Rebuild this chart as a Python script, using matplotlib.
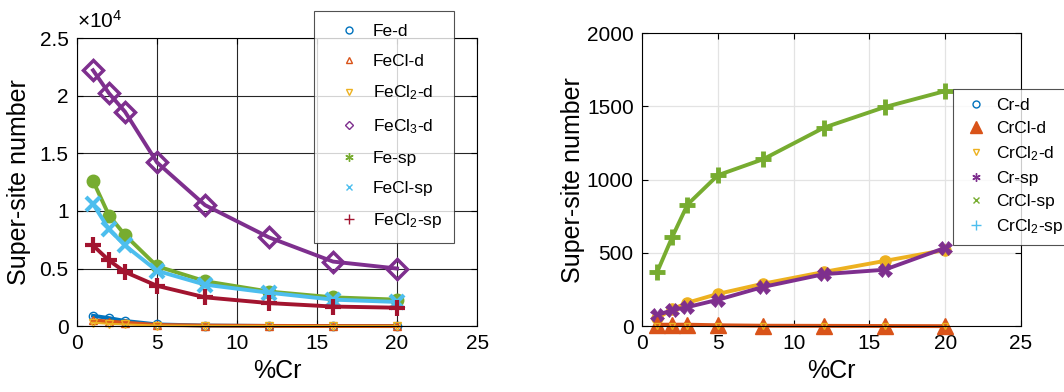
import matplotlib
matplotlib.use("Agg")
import matplotlib.pyplot as plt
from matplotlib.lines import Line2D
from matplotlib.ticker import FuncFormatter

plt.rcParams['font.family'] = ['Liberation Sans', 'DejaVu Sans']
plt.rcParams['mathtext.default'] = 'regular'

# ---------------- data ----------------
cr = [1, 2, 3, 5, 8, 12, 16, 20]

# left panel (Fe species)
fe_d = [900, 700, 450, 150, 50, 20, 10, 5]
fecl_d = [500, 400, 300, 100, 50, 20, 10, 5]
fecl2_d = [300, 200, 150, 50, 20, 10, 5, 2]
fecl3_d = [22200, 20200, 18600, 14200, 10500, 7700, 5600, 5000]
fe_sp = [12600, 9600, 7900, 5200, 3900, 3000, 2500, 2300]
fecl_sp = [10600, 8400, 7000, 4800, 3600, 2900, 2300, 2100]
fecl2_sp = [7000, 5700, 4700, 3500, 2500, 2000, 1700, 1600]

# right panel (Cr species), as drawn
cr_top = [369, 610, 830, 1030, 1140, 1355, 1495, 1605]
cr_mid = [55, 115, 160, 220, 290, 370, 445, 520]
cr_low = [75, 110, 130, 180, 268, 355, 385, 535]
cr_zero = [10, 10, 10, 6, 3, 2, 1, 0]
cr_zero2 = [0, 0, 0, 0, 0, 0, 0, 0]

left_labels = ['Fe-d', 'FeCl-d', 'FeCl$_2$-d', 'FeCl$_3$-d', 'Fe-sp', 'FeCl-sp', 'FeCl$_2$-sp']
right_labels = ['Cr-d', 'CrCl-d', 'CrCl$_2$-d', 'Cr-sp', 'CrCl-sp', 'CrCl$_2$-sp']

C_BLUE = '#0072BD'
C_ORANGE = '#D95319'
C_YELLOW = '#EDB120'
C_PURPLE = '#7E2F8E'
C_GREEN = '#77AC30'
C_CYAN = '#4DBEEE'
C_RED = '#A2142F'
AST = (6, 2, 0)

TICK_FS = 15
LABEL_FS = 18
LEG_FS = 12.5

fig = plt.figure(figsize=(10.64, 3.92), dpi=100)

# ---------------- left ----------------
ax1 = fig.add_axes([0.0724, 0.168, 0.376, 0.735])
lw = 2.8
ax1.plot(cr, fe_d, color=C_BLUE, lw=lw, marker='o', ms=6, mfc='none', mew=1, clip_on=False)
ax1.plot(cr, fecl_d, color=C_ORANGE, lw=lw, marker='^', ms=6, mfc='none', mew=1, clip_on=False)
ax1.plot(cr, fecl2_d, color=C_YELLOW, lw=1.5, marker='v', ms=6, mfc='none', mew=1, clip_on=False)
ax1.plot(cr, fecl3_d, color=C_PURPLE, lw=lw, marker='D', ms=10, mfc='none', mew=2.5)
ax1.plot(cr, fe_sp, color=C_GREEN, lw=lw, marker='o', ms=8, mew=2)
ax1.plot(cr, fecl_sp, color=C_CYAN, lw=lw, marker='x', ms=10, mew=3)
ax1.plot(cr, fecl2_sp, color=C_RED, lw=lw, marker='+', ms=12, mew=3)
ax1.set_xlim(0, 25)
ax1.set_ylim(0, 25000)
ax1.set_xticks([0, 5, 10, 15, 20, 25])
ax1.set_yticks([0, 5000, 10000, 15000, 20000, 25000])
ax1.yaxis.set_major_formatter(FuncFormatter(lambda v, p: '%g' % (v / 1e4)))
ax1.grid(True, color='#262626', lw=0.8)
ax1.set_axisbelow(True)
ax1.tick_params(direction='in', top=True, right=True, labelsize=TICK_FS, length=4, pad=6)
ax1.set_xlabel('%Cr', fontsize=LABEL_FS, labelpad=4)
ax1.set_ylabel('Super-site number', fontsize=LABEL_FS, labelpad=6)
ax1.text(0.0, 1.02, r'$\times10^4$', transform=ax1.transAxes, fontsize=15,
         ha='left', va='bottom')

h_left = [
    Line2D([], [], ls='none', marker='o', color=C_BLUE, mfc='none', ms=5, mew=1),
    Line2D([], [], ls='none', marker='^', color=C_ORANGE, mfc='none', ms=5, mew=1),
    Line2D([], [], ls='none', marker='v', color=C_YELLOW, mfc='none', ms=5, mew=1),
    Line2D([], [], ls='none', marker='D', color=C_PURPLE, mfc='none', ms=4.5, mew=1),
    Line2D([], [], ls='none', marker=AST, color=C_GREEN, ms=6, mew=1),
    Line2D([], [], ls='none', marker='x', color=C_CYAN, ms=5, mew=1),
    Line2D([], [], ls='none', marker='+', color=C_RED, ms=7, mew=1),
]
leg1 = fig.legend(h_left, left_labels, loc='upper left',
                  bbox_to_anchor=(314 / 1064, 1 - 11 / 392), fontsize=LEG_FS,
                  frameon=True, fancybox=False, edgecolor='#262626',
                  labelspacing=0.86, handletextpad=0.05, borderpad=0.72,
                  borderaxespad=0, handlelength=2.6)
leg1.get_frame().set_linewidth(0.8)

# ---------------- right ----------------
ax2 = fig.add_axes([0.6034, 0.168, 0.3562, 0.7474])
ax2.plot(cr, cr_top, color=C_GREEN, lw=lw, marker='+', ms=12, mew=3.5)
ax2.plot(cr, cr_mid, color=C_YELLOW, lw=lw, marker='o', ms=8)
ax2.plot(cr, cr_low, color=C_PURPLE, lw=lw, marker='X', ms=10, mew=0.5)
ax2.plot(cr, cr_zero, color=C_ORANGE, lw=lw, marker='^', ms=12, clip_on=False)
ax2.plot(cr, cr_zero2, color=C_YELLOW, lw=0, marker='v', ms=5, mfc='none', mew=1, clip_on=False)
ax2.set_xlim(0, 25)
ax2.set_ylim(0, 2000)
ax2.set_xticks([0, 5, 10, 15, 20, 25])
ax2.set_yticks([0, 500, 1000, 1500, 2000])
ax2.grid(True, color='#e3e3e3', lw=0.9)
ax2.set_axisbelow(True)
ax2.tick_params(direction='in', top=True, right=True, labelsize=TICK_FS, length=4, pad=6)
ax2.set_xlabel('%Cr', fontsize=LABEL_FS, labelpad=4)
ax2.set_ylabel('Super-site number', fontsize=LABEL_FS, labelpad=1)

h_right = [
    Line2D([], [], ls='none', marker='o', color=C_BLUE, mfc='none', ms=5, mew=1),
    Line2D([], [], ls='none', marker='^', color=C_ORANGE, ms=9, mew=1),
    Line2D([], [], ls='none', marker='v', color=C_YELLOW, mfc='none', ms=5, mew=1),
    Line2D([], [], ls='none', marker=AST, color=C_PURPLE, ms=6, mew=1),
    Line2D([], [], ls='none', marker='x', color=C_GREEN, ms=5, mew=1),
    Line2D([], [], ls='none', marker='+', color=C_CYAN, ms=7, mew=1),
]
leg2 = fig.legend(h_right, right_labels, loc='upper left',
                  bbox_to_anchor=(953 / 1064, 1 - 89 / 392), fontsize=LEG_FS,
                  frameon=True, fancybox=False, edgecolor='#262626',
                  labelspacing=0.46, handletextpad=0.4, borderpad=0.5,
                  borderaxespad=0, handlelength=1.6)
leg2.get_frame().set_linewidth(0.8)

fig.savefig('out.png', dpi=100)
